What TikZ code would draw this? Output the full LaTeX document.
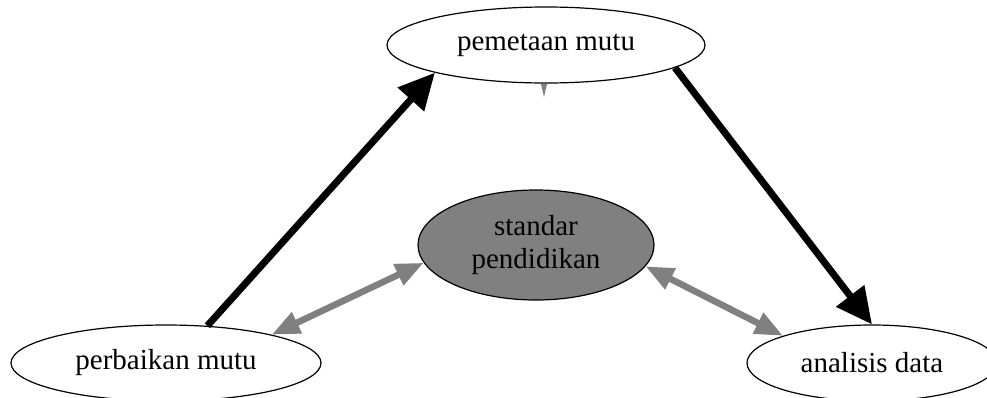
\documentclass[tikz,border=0pt]{standalone}
\usepackage{fontspec}
\setmainfont{Liberation Serif}
\usetikzlibrary{arrows.meta,shapes.geometric}
\definecolor{midgray}{RGB}{128,128,128}
\tikzset{
  oval/.style={ellipse,draw=black,line width=1.2pt,inner sep=0pt,fill=white,
    font=\fontsize{29}{33}\selectfont,align=center},
  blackarrow/.style={line width=7pt,-{Triangle[length=36pt,width=34pt]}},
  grayarrow/.style={draw=midgray,line width=6.5pt,{Triangle[length=28pt,width=22pt]}-{Triangle[length=28pt,width=22pt]}},
}
\begin{document}
\begin{tikzpicture}[x=1pt,y=-1pt]
\useasboundingbox[fill=white] (0,0) rectangle (987,397);
\node[oval,minimum width=318pt,minimum height=76pt] (pem) at (546,45) {pemetaan mutu};
\node[oval,fill=midgray,minimum width=236pt,minimum height=110pt] (std) at (536,245) {standar\\pendidikan};
\node[oval,minimum width=310pt,minimum height=76pt] (perb) at (166,363) {perbaikan mutu};
\node[oval,minimum width=250pt,minimum height=76pt] (anal) at (872,363) {analisis data};
\draw[blackarrow] (perb.42.8) -- (pem.194.4);
\draw[blackarrow] (pem.-10.3) -- (anal.north);
\draw[grayarrow] (perb.15) -- (std.189);
\draw[grayarrow] (std.-11) -- (anal.163);
\fill[midgray] (541,84) -- (547,84) -- (544,97) -- cycle;
\end{tikzpicture}
\end{document}
